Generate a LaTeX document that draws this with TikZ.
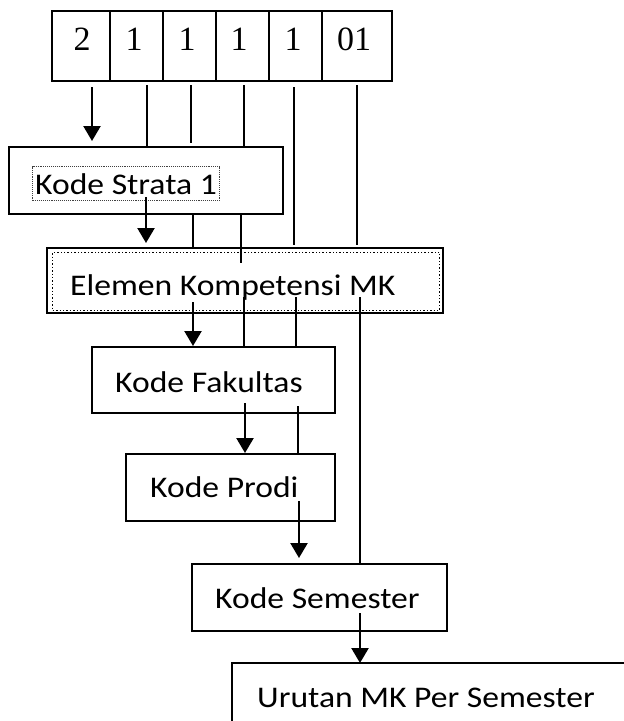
\documentclass[tikz,border=0pt]{standalone}
\usepackage{fontspec}
\setmainfont{Carlito}
\newfontfamily\digitfont{Liberation Serif}
\usetikzlibrary{arrows.meta}
\tikzset{
  ln/.style={line width=1.5pt, draw=black},
  arr/.style={line width=2.4pt, draw=black, -{Triangle[width=17pt,length=15pt]}},
  dbox/.style={draw=black, line width=2.2pt, inner sep=0pt, outer sep=0pt, fill=white, anchor=north west},
  sbox/.style={draw=black, line width=1.8pt, inner sep=0pt, outer sep=0pt, fill=white, anchor=north west},
  lbl/.style={font=\fontsize{30}{30}\selectfont, inner sep=0pt, anchor=base west, text=black,
     xscale=1.12, transform shape},
  dig/.style={font=\digitfont\fontsize{34}{34}\selectfont, inner sep=0pt, anchor=base, text=black}
}
\begin{document}
\begin{tikzpicture}[x=1pt,y=-1pt]
\useasboundingbox (0,0) rectangle (624,721);
\clip (0,0) rectangle (624,721);
% top cells
\node[dbox, minimum width=58pt, minimum height=70pt] (c1) at (52,11) {};
\node[dbox, minimum width=53pt, minimum height=70pt] (c2) at (110,11) {};
\node[dbox, minimum width=53pt, minimum height=70pt] (c3) at (163,11) {};
\node[dbox, minimum width=53pt, minimum height=70pt] (c4) at (216,11) {};
\node[dbox, minimum width=53pt, minimum height=70pt] (c5) at (269,11) {};
\node[dbox, minimum width=70pt, minimum height=70pt] (c6) at (322,11) {};
\node[dig] (d1) at (82,50) {2};
\node[dig] (d2) at (134,50) {1};
\node[dig] (d3) at (187,50) {1};
\node[dig] (d4) at (239,50) {1};
\node[dig] (d5) at (293,50) {1};
\node[dig] (d6) at (354,50) {01};
% boxes
\node[sbox, minimum width=274pt, minimum height=67pt] (strata) at (9,147) {};
\node[draw=black!75, densely dotted, line width=1.1pt, inner sep=0pt, anchor=north west,
      minimum width=187pt, minimum height=34pt] (sframe) at (32,166) {};
\node[lbl] (tstrata) at (35,194) {Kode Strata 1};

\node[sbox, minimum width=396pt, minimum height=65pt] (elemen) at (47,248) {};
\node[draw=black, dotted, line width=1.4pt, inner sep=0pt, anchor=north west,
      minimum width=387pt, minimum height=58pt] (eframe) at (52,251.5) {};
\node[lbl] (telemen) at (70,295) {Elemen Kompetensi MK};

\node[dbox, minimum width=243pt, minimum height=66pt] (fak) at (92,347) {};
\node[lbl] (tfak) at (115,392) {Kode Fakultas};

\node[dbox, minimum width=209pt, minimum height=67pt] (prodi) at (126,454) {};
\node[lbl] (tprodi) at (150,497) {Kode Prodi};

\node[dbox, minimum width=255pt, minimum height=67pt] (sem) at (192,564) {};
\node[lbl] (tsem) at (215,608) {Kode Semester};

\node[dbox, minimum width=420pt, minimum height=100pt] (urut) at (232,663) {};
\node[lbl] (turut) at (257,707) {Urutan MK Per Semester};

% coordinates for free ends
\coordinate (a1s) at (92,87);  \coordinate (a1e) at (92,141);
\coordinate (l2s) at (147,85);
\coordinate (l3s) at (191,85); \coordinate (l3e) at (191,143);
\coordinate (l4s) at (244,85);
\coordinate (l5s) at (294,87); \coordinate (l5e) at (294,245);
\coordinate (l6s) at (357,85); \coordinate (l6e) at (357,245);
\coordinate (a7s) at (146,197); \coordinate (a7e) at (146,243);
\coordinate (l8s) at (193,214);
\coordinate (l9s) at (241,214); \coordinate (l9e) at (241,263);
\coordinate (a10s) at (193,302); \coordinate (a10e) at (193,346);
\coordinate (l11s) at (244,297);
\coordinate (l12s) at (296,297);
\coordinate (l13s) at (360,297);
\coordinate (a14s) at (245,403); \coordinate (a14e) at (245,453);
\coordinate (l15s) at (298,406);
\coordinate (a16s) at (299,501); \coordinate (a16e) at (299,558);
\coordinate (a17s) at (360,613); \coordinate (a17e) at (360,663);

% connectors
\draw[arr] (a1s) -- (a1e);
\draw[ln] (l2s) -- (l2s |- strata.north);
\draw[ln] (l3s) -- (l3e);
\draw[ln] (l4s) -- (l4s |- strata.north);
\draw[ln] (l5s) -- (l5e);
\draw[ln] (l6s) -- (l6e);
\draw[arr] (a7s) -- (a7e);
\draw[ln] (l8s) -- (l8s |- elemen.north);
\draw[ln] (l9s) -- (l9e);
\draw[arr] (a10s) -- (a10e);
\draw[ln] (l11s) -- (l11s |- fak.north);
\draw[ln] (l12s) -- (l12s |- fak.north);
\draw[ln] (l13s) -- (l13s |- sem.north);
\draw[arr] (a14s) -- (a14e);
\draw[ln] (l15s) -- (l15s |- prodi.north);
\draw[arr] (a16s) -- (a16e);
\draw[arr] (a17s) -- (a17e);
\end{tikzpicture}
\end{document}
